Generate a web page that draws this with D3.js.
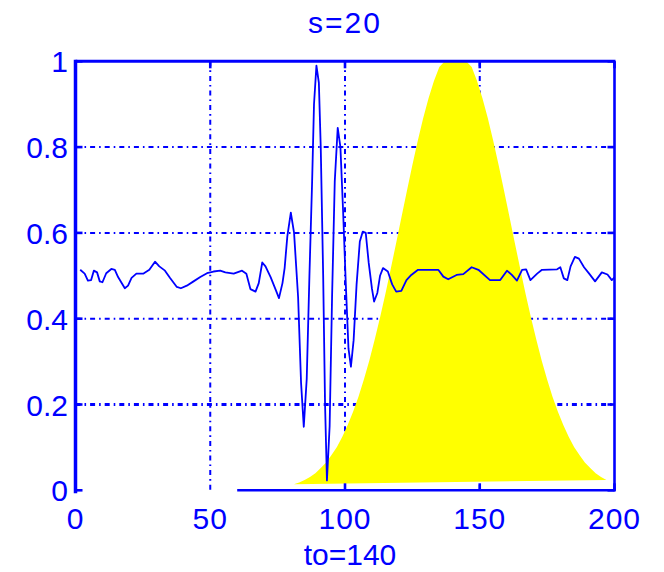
<!DOCTYPE html>
<html>
<head>
<meta charset="utf-8">
<script src="https://cdn.jsdelivr.net/npm/d3@7"></script>
<style>
  html, body { margin: 0; padding: 0; background: #ffffff; }
  svg { display: block; }
  text { font-family: "Liberation Sans", Arial, sans-serif; fill: #0000ff; }
</style>
</head>
<body>
<svg id="chart" width="664" height="572"></svg>
<script>
// Signal trace (time, amplitude)
const signalT = [1.75, 3.4, 4.6, 5.8, 6.8, 8, 9, 10, 11.4, 13.3,
  14.6, 15.8, 18.3, 19.5, 20.8, 22.6, 25.1, 27.4, 29.5, 31.1,
  33.2, 35.1, 37.6, 39.1, 41.3, 43.8, 46.3, 48.8, 51.2, 53.7,
  55.6, 58.7, 61.8, 63.4, 64.9, 66.8, 68, 69.3, 70.5, 72.4,
  74.3, 75.5, 76.8, 77.6, 78.6, 79.9, 81.1, 82.6, 83.7, 84.7,
  85.8, 86.8, 87.8, 88.5, 89.4, 90.3, 91.0, 91.9, 92.6, 93.3,
  94.3, 95.2, 96.2, 97.3, 98.3, 99.3, 100.3, 101.3, 102.2, 103.2,
  104.3, 105.5, 106.6, 107.7, 108.8, 110.0, 110.8, 112, 113, 114.1,
  115.9, 117.5, 119, 120.9, 122.8, 124.6, 127.1, 134.6, 136.5, 138.3,
  141.4, 143.9, 147, 149.5, 153.8, 157.6, 160.1, 161.9, 163.8, 165.7,
  167.2, 168.8, 171.3, 173.1, 178.7, 179.9, 181.2, 182.5, 183.7, 185.3,
  186.8, 188.7, 190.6, 192.8, 195.3, 197.4, 199, 200];
const signalV = [0.514, 0.505, 0.489, 0.49, 0.512, 0.508, 0.487, 0.485, 0.506, 0.516,
  0.514, 0.497, 0.471, 0.477, 0.495, 0.505, 0.505, 0.514, 0.533, 0.522,
  0.512, 0.495, 0.474, 0.471, 0.477, 0.487, 0.497, 0.506, 0.51, 0.512,
  0.508, 0.505, 0.512, 0.505, 0.469, 0.463, 0.483, 0.531, 0.522, 0.497,
  0.467, 0.448, 0.483, 0.518, 0.592, 0.647, 0.60, 0.45, 0.25, 0.148,
  0.26, 0.50, 0.72, 0.90, 0.99, 0.95, 0.80, 0.50, 0.20, 0.023,
  0.15, 0.45, 0.72, 0.845, 0.80, 0.65, 0.48, 0.33, 0.288, 0.35,
  0.48, 0.58, 0.603, 0.60, 0.53, 0.47, 0.44, 0.46, 0.50, 0.518,
  0.51, 0.48, 0.463, 0.465, 0.49, 0.502, 0.514, 0.514, 0.498, 0.492,
  0.502, 0.504, 0.52, 0.514, 0.49, 0.49, 0.512, 0.502, 0.489, 0.514,
  0.515, 0.49, 0.505, 0.514, 0.515, 0.52, 0.494, 0.49, 0.522, 0.544,
  0.54, 0.52, 0.505, 0.487, 0.508, 0.503, 0.49, 0.496];

// Window pulse centred on to=140 (filled patch)
const pulseT = [81, 83, 85, 87, 89, 91, 93, 95, 97, 99,
  101, 103, 105, 107, 109, 111, 113, 115, 117, 119,
  121, 123, 125, 127, 129, 131, 133, 135, 137, 139,
  141, 143, 145, 147, 149, 151, 153, 155, 157, 159,
  161, 163, 165, 167, 169, 171, 173, 175, 177, 179,
  181, 183, 185, 187, 189, 191, 193, 195, 197];
const pulseV = [0.014, 0.018, 0.024, 0.031, 0.040, 0.052, 0.065, 0.082, 0.101, 0.125,
  0.152, 0.183, 0.218, 0.258, 0.302, 0.351, 0.403, 0.458, 0.517, 0.577,
  0.638, 0.699, 0.758, 0.815, 0.867, 0.914, 0.954, 0.987, 1, 1,
  1, 1, 1, 0.987, 0.954, 0.914, 0.867, 0.815, 0.758, 0.699,
  0.638, 0.577, 0.517, 0.458, 0.403, 0.351, 0.302, 0.258, 0.218, 0.183,
  0.152, 0.125, 0.101, 0.082, 0.065, 0.052, 0.040, 0.031, 0.024];

// Axis ticks and labels
const xTicks = [0, 50, 100, 150, 200];
const xTickLabels = ["0", "50", "100", "150", "200"];
const yTicks = [0, 0.2, 0.4, 0.6, 0.8, 1];
const yTickLabels = ["0", "0.2", "0.4", "0.6", "0.8", "1"];
const baselineSpan = [60, 200];

const titleText = "s=20";
const xLabelText = "to=140";

const BLUE = "#0000ff";
const svg = d3.select("#chart");

const x = d3.scaleLinear().domain([0, 200]).range([75.5, 614.5]);
const y = d3.scaleLinear().domain([0, 1]).range([490.3, 61.3]);

svg.append("rect").attr("width", 664).attr("height", 572).attr("fill", "#ffffff");

svg.append("defs").append("clipPath").attr("id", "plotClip")
  .append("rect")
  .attr("x", x(0)).attr("y", y(1))
  .attr("width", x(200) - x(0)).attr("height", y(0) - y(1));

// Grid lines (dash-dot)
const grid = svg.append("g").attr("class", "grid")
  .attr("stroke", BLUE).attr("fill", "none")
  .attr("stroke-dasharray", "5,4,1.6,4");
grid.selectAll("line.gx").data(xTicks.filter(d => d > 0 && d < 200)).join("line")
  .attr("class", "gx")
  .attr("x1", d => x(d)).attr("x2", d => x(d))
  .attr("y1", y(1)).attr("y2", y(0))
  .attr("stroke-width", 2);
grid.selectAll("line.gy").data(yTicks.filter(d => d > 0 && d < 1)).join("line")
  .attr("class", "gy")
  .attr("x1", x(0)).attr("x2", x(200))
  .attr("y1", d => y(d)).attr("y2", d => y(d))
  .attr("stroke-width", d => d === 0.2 ? 2.8 : 2);

// Filled pulse: polygon closes from the last sample back to the first
const pulsePts = pulseT.map((t, i) => [x(t), y(pulseV[i])]);
svg.append("path")
  .attr("clip-path", "url(#plotClip)")
  .attr("d", d3.line().curve(d3.curveLinear)(pulsePts) + "Z")
  .attr("fill", "#ffff00")
  .attr("stroke", "none");

// Signal trace
const sigPts = signalT.map((t, i) => [x(t), y(signalV[i])]);
svg.append("path")
  .attr("clip-path", "url(#plotClip)")
  .attr("d", d3.line().curve(d3.curveLinear)(sigPts))
  .attr("fill", "none")
  .attr("stroke", BLUE)
  .attr("stroke-width", 1.8)
  .attr("stroke-linejoin", "round");

// Frame
const frame = svg.append("g").attr("stroke", BLUE).attr("fill", "none");
frame.append("line").attr("x1", x(0)).attr("x2", x(0)).attr("y1", y(1) - 1.5).attr("y2", y(0) + 3)
  .attr("stroke-width", 3.5);
frame.append("line").attr("x1", x(0)).attr("x2", x(200) + 1).attr("y1", y(1)).attr("y2", y(1))
  .attr("stroke-width", 3);
frame.append("line").attr("x1", x(200)).attr("x2", x(200)).attr("y1", y(1)).attr("y2", y(0) + 1)
  .attr("stroke-width", 2.6);
frame.append("line").attr("x1", x(baselineSpan[0])).attr("x2", x(baselineSpan[1]) + 1)
  .attr("y1", y(0)).attr("y2", y(0))
  .attr("stroke-width", 2.6);

// Inward ticks
const TL = 7;
const ticks = svg.append("g").attr("stroke", BLUE).attr("stroke-width", 2.6);
ticks.selectAll("line.tl").data(yTicks).join("line").attr("class", "tl")
  .attr("x1", x(0)).attr("x2", x(0) + TL).attr("y1", d => y(d)).attr("y2", d => y(d));
ticks.selectAll("line.tr").data(yTicks).join("line").attr("class", "tr")
  .attr("x1", x(200)).attr("x2", x(200) - TL).attr("y1", d => y(d)).attr("y2", d => y(d));
ticks.selectAll("line.tt").data(xTicks).join("line").attr("class", "tt")
  .attr("x1", d => x(d)).attr("x2", d => x(d)).attr("y1", y(1)).attr("y2", y(1) + TL);
ticks.selectAll("line.tb").data(xTicks.filter(d => d >= baselineSpan[0])).join("line").attr("class", "tb")
  .attr("x1", d => x(d)).attr("x2", d => x(d)).attr("y1", y(0)).attr("y2", y(0) - TL);

// Tick labels
svg.append("g").selectAll("text").data(xTicks).join("text")
  .attr("x", d => x(d)).attr("y", 529)
  .attr("text-anchor", "middle")
  .attr("font-size", 30)
  .attr("letter-spacing", 1)
  .text((d, i) => xTickLabels[i]);

svg.append("g").selectAll("text").data(yTicks).join("text")
  .attr("x", 68).attr("y", d => y(d) + 11)
  .attr("text-anchor", "end")
  .attr("font-size", 30)
  .text((d, i) => yTickLabels[i]);

// Title and axis label
svg.append("text").attr("x", 345).attr("y", 33)
  .attr("text-anchor", "middle").attr("font-size", 30).attr("letter-spacing", 2)
  .text(titleText);
svg.append("text").attr("x", 350).attr("y", 565)
  .attr("text-anchor", "middle").attr("font-size", 30)
  .text(xLabelText);
</script>
</body>
</html>
